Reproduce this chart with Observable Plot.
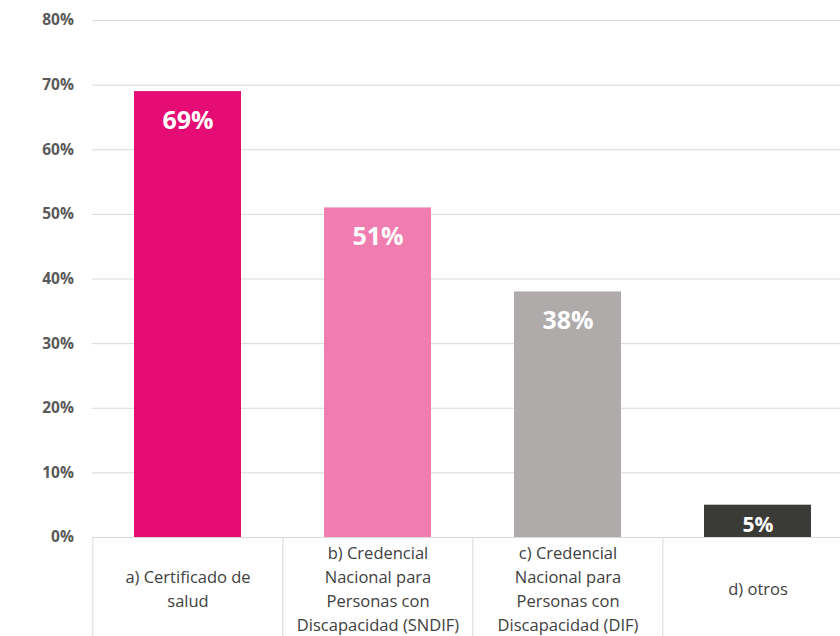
<!DOCTYPE html>
<html>
<head>
<meta charset="utf-8">
<script src="https://cdn.jsdelivr.net/npm/d3@7"></script>
<script src="https://cdn.jsdelivr.net/npm/@observablehq/plot@0.6"></script>
<style>
  html, body { margin: 0; padding: 0; background: #fff; overflow: hidden; }
  #chart { width: 840px; height: 636px; }
</style>
</head>
<body>
<div id="chart"></div>
<script>
const categories = [
  "a) Certificado de\nsalud",
  "b) Credencial\nNacional para\nPersonas con\nDiscapacidad (SNDIF)",
  "c) Credencial\nNacional para\nPersonas con\nDiscapacidad (DIF)",
  "d) otros"
];
const values = [0.69, 0.51, 0.38, 0.05];
const colors = ["#E50D73", "#F07DAF", "#AFABAB", "#3A3A36"];
const yTicks = [0, 0.1, 0.2, 0.3, 0.4, 0.5, 0.6, 0.7, 0.8];

const data = categories.map((c, i) => ({cat: c, value: values[i], color: colors[i]}));

const W = 840, H = 636;
const mLeft = 92, mTop = 20, mBottom = 99;
const pad = 0.437;
const xRange = [mLeft, 853];
const step = (xRange[1] - xRange[0]) / (categories.length);
const font = "'Open Sans', 'Noto Sans', sans-serif";

const plot = Plot.plot({
  width: W,
  height: H,
  marginLeft: mLeft,
  marginRight: 0,
  marginTop: mTop,
  marginBottom: mBottom,
  style: {fontFamily: font, background: "#fff"},
  x: {domain: categories, range: xRange, paddingInner: pad, paddingOuter: pad / 2, axis: null},
  y: {domain: [0, 0.8], axis: null},
  marks: [
    Plot.ruleY(yTicks, {y: d => d, stroke: "#d9d9d9", strokeWidth: 1}),
    Plot.ruleX(categories, {x: d => d, dx: -step / 2, y1: 0, y2: -0.2, stroke: "#d9d9d9", strokeWidth: 1}),
    Plot.barY(data, {x: "cat", y: "value", fill: "color"}),
    Plot.text(yTicks, {
      y: d => d, x: () => categories[0], frameAnchor: "left",
      text: d => d3.format(".0%")(d),
      textAnchor: "end", dx: -step / 2 - 19,
      fill: "#595959", fontSize: 15.5, fontWeight: "bold"
    }),
    Plot.text(data.filter(d => d.value > 0.1), {
      x: "cat", y: "value", text: d => d3.format(".0%")(d.value),
      dy: 29, fill: "#fff", fontSize: 25, fontWeight: "bold", lineAnchor: "middle"
    }),
    Plot.text(data.filter(d => d.value <= 0.1), {
      x: "cat", y: "value", text: d => d3.format(".0%")(d.value),
      dy: 20, fill: "#fff", fontSize: 21, fontWeight: "bold", lineAnchor: "middle"
    }),
    Plot.text(data, {
      x: "cat", y: 0, text: "cat", dy: 50, lineAnchor: "middle", lineHeight: 24 / 16.5,
      fill: "#404040", fontSize: 16.5, textAnchor: "middle"
    })
  ]
});
document.getElementById("chart").appendChild(plot);
</script>
</body>
</html>
